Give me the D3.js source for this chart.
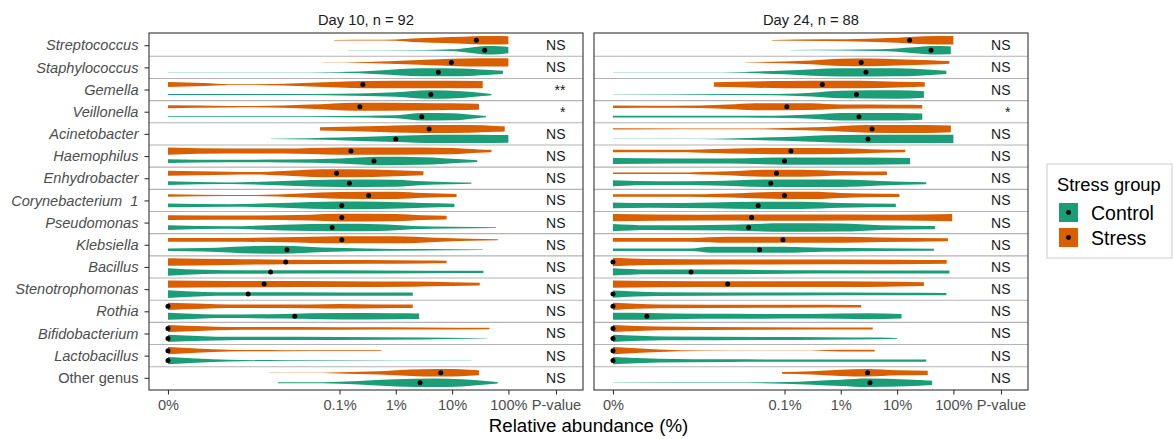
<!DOCTYPE html>
<html>
<head>
<meta charset="utf-8">
<script src="https://cdn.jsdelivr.net/npm/d3@7"></script>
<style>
  body { margin: 0; background: #fff; }
  svg { display: block; font-family: "Liberation Sans", Arial, sans-serif; }
</style>
</head>
<body>
<svg id="chart" width="1173" height="439"></svg>
<script>
// categories, top to bottom
var genera = ["Streptococcus", "Staphylococcus", "Gemella", "Veillonella", "Acinetobacter",
  "Haemophilus", "Enhydrobacter", "Corynebacterium  1", "Pseudomonas", "Klebsiella",
  "Bacillus", "Stenotrophomonas", "Rothia", "Bifidobacterium", "Lactobacillus", "Other genus"];
var groups = ["Stress", "Control"];
var facetTitles = ["Day 10, n = 92", "Day 24, n = 88"];

// x ticks (relative abundance, %); last one is the p-value column
var tickPct = [0, 0.1, 1, 10, 100, 700];
var tickLabels = ["0%", "0.1%", "1%", "10%", "100%", "P-value"];

var pvalDay10 = ["NS", "NS", "**", "*", "NS", "NS", "NS", "NS", "NS", "NS", "NS", "NS", "NS", "NS", "NS", "NS"];
var pvalDay24 = ["NS", "NS", "NS", "*", "NS", "NS", "NS", "NS", "NS", "NS", "NS", "NS", "NS", "NS", "NS", "NS"];

// medians (%)
var medianStress10  = [27, 9.7, 0.26, 0.23, 3.9, 0.16, 0.089, 0.33, 0.11, 0.11, 0.011, 0.0045, 0, 0, 0, 6.3];
var medianControl10 = [38, 5.7, 4.2, 2.9, 1.0, 0.41, 0.15, 0.11, 0.074, 0.0116, 0.0059, 0.0023, 0.016, 0, 0, 2.7];
var medianStress24  = [16.7, 2.3, 0.47, 0.11, 3.6, 0.13, 0.072, 0.1, 0.026, 0.094, 0, 0.0097, 0, 0, 0, 3.0];
var medianControl24 = [40, 2.8, 1.9, 2.1, 3.05, 0.1, 0.057, 0.034, 0.023, 0.036, 0.0021, 0, 0.00027, 0, 0, 3.3];

// violin outlines: [abundance %, relative density]
var violinStress10 = [
  [[0.08,0.04],[0.4,0.08],[1,0.15],[2,0.4],[10,0.75],[25,0.95],[50,1.0],[100,0.95]],
  [[0.05,0.04],[0.3,0.12],[2,0.5],[10,0.85],[30,1.0],[100,1.0]],
  [[0,0.6],[0.0003,0.35],[0.001,0.08],[0.003,0.08],[0.01,0.2],[0.03,0.45],[0.3,0.85],[3,0.9],[35,0.85]],
  [[0,0.35],[0.001,0.2],[0.003,0.15],[0.03,0.5],[0.2,0.95],[2,0.9],[10,0.8],[30,0.7]],
  [[0.045,0.4],[0.3,0.6],[3,0.95],[20,0.9],[60,0.7],[86,0.6]],
  [[0,0.85],[0.001,0.6],[0.01,0.6],[0.1,0.85],[1,0.85],[10,0.75],[30,0.4],[50,0.3]],
  [[0,0.6],[0.001,0.35],[0.003,0.3],[0.01,0.55],[0.05,0.95],[0.15,0.95],[1,0.7],[3.1,0.45]],
  [[0,0.3],[0.001,0.12],[0.003,0.12],[0.02,0.45],[0.1,0.8],[1,0.85],[3,0.55],[12,0.35]],
  [[0,0.55],[0.003,0.5],[0.03,0.7],[0.1,0.9],[1,0.85],[3,0.55],[8,0.45]],
  [[0,0.45],[0.001,0.45],[0.01,0.6],[0.1,0.85],[1,0.85],[5,0.5],[20,0.25],[65,0.12]],
  [[0,0.9],[0.001,0.7],[0.01,0.55],[0.3,0.45],[3,0.35],[8,0.3]],
  [[0,0.85],[0.001,0.75],[0.1,0.7],[2,0.6],[10,0.45],[31,0.35]],
  [[0,0.85],[0.0003,0.6],[0.001,0.42],[0.03,0.45],[0.1,0.55],[0.5,0.45],[2,0.4]],
  [[0,0.85],[0.0003,0.55],[0.001,0.35],[0.1,0.3],[3,0.25],[46,0.18]],
  [[0,0.85],[0.0002,0.5],[0.001,0.2],[0.01,0.12],[0.1,0.1],[0.55,0.1]],
  [[0.0055,0.02],[0.05,0.03],[0.1,0.15],[0.5,0.4],[3,0.85],[10,0.9],[20,0.7],[30,0.6]]
];
var violinControl10 = [
  [[0.14,0.03],[3,0.06],[10,0.2],[20,0.6],[40,1.0],[70,0.95],[100,0.75]],
  [[0,0.02],[0.01,0.02],[0.1,0.1],[0.5,0.45],[3,0.95],[15,0.9],[40,0.6],[80,0.4]],
  [[0,0.12],[0.01,0.1],[0.1,0.2],[1,0.55],[4,1.0],[15,0.8],[35,0.35],[50,0.15]],
  [[0,0.08],[0.01,0.08],[0.1,0.15],[1,0.35],[3,0.9],[10,0.85],[25,0.4],[40,0.15]],
  [[0.006,0.04],[0.03,0.15],[0.1,0.3],[1,0.75],[5,1.0],[30,1.0],[100,0.9]],
  [[0,0.45],[0.001,0.3],[0.01,0.35],[0.1,0.6],[0.5,1.0],[3,0.9],[15,0.4],[28,0.2]],
  [[0,0.45],[0.001,0.2],[0.01,0.55],[0.1,0.9],[1,0.85],[3,0.45],[10,0.25],[22,0.15]],
  [[0,0.45],[0.001,0.3],[0.01,0.55],[0.1,0.9],[0.5,0.85],[3,0.55],[11,0.4]],
  [[0,0.55],[0.001,0.3],[0.01,0.7],[0.1,0.9],[0.5,0.8],[2,0.4],[10,0.2],[60,0.1]],
  [[0,0.3],[0.0003,0.4],[0.003,0.9],[0.01,0.95],[0.05,0.55],[0.3,0.3],[3,0.15],[35,0.06]],
  [[0,0.9],[0.0003,0.5],[0.001,0.42],[0.1,0.4],[3,0.3],[36,0.25]],
  [[0,0.9],[0.0003,0.5],[0.001,0.42],[0.1,0.4],[2,0.4]],
  [[0,0.85],[0.0003,0.5],[0.001,0.42],[0.01,0.55],[0.1,0.75],[1,0.7],[2.6,0.65]],
  [[0,0.85],[0.0003,0.55],[0.001,0.4],[0.1,0.35],[3,0.25],[20,0.08],[42,0.03]],
  [[0,0.85],[0.0002,0.5],[0.001,0.2],[0.01,0.08],[1,0.04],[22,0.02]],
  [[0.008,0.1],[0.05,0.12],[0.1,0.25],[1,0.85],[5,1.0],[15,0.85],[40,0.4],[65,0.15]]
];
var violinStress24 = [
  [[0.06,0.04],[0.5,0.2],[3,0.35],[10,0.6],[20,0.85],[50,1.0],[100,1.0]],
  [[0.02,0.04],[0.1,0.2],[0.3,0.45],[1,0.85],[3,0.9],[10,0.75],[40,0.5],[85,0.3]],
  [[0.0055,0.55],[0.1,0.85],[1,0.9],[5,0.8],[20,0.6],[31,0.55]],
  [[0,0.3],[0.001,0.25],[0.01,0.55],[0.03,0.85],[0.3,0.8],[1,0.5],[10,0.45],[28,0.4]],
  [[0,0.15],[0.03,0.1],[0.1,0.2],[0.5,0.45],[3,0.9],[30,0.95],[90,0.8]],
  [[0,0.3],[0.001,0.3],[0.01,0.55],[0.1,0.75],[1,0.7],[5,0.4],[14,0.3]],
  [[0,0.2],[0.001,0.15],[0.01,0.45],[0.05,0.85],[0.2,0.85],[1,0.55],[6.6,0.4]],
  [[0,0.3],[0.002,0.3],[0.02,0.6],[0.1,0.85],[0.3,0.85],[1,0.6],[5,0.4],[11,0.35]],
  [[0,0.85],[0.003,0.7],[0.3,0.75],[10,0.7],[95,0.85]],
  [[0,0.45],[0.002,0.45],[0.01,0.7],[1,0.7],[5,0.55],[80,0.35]],
  [[0,1.0],[0.0003,0.7],[0.01,0.6],[10,0.55],[76,0.45]],
  [[0,0.85],[0.003,0.7],[1,0.7],[10,0.55],[30,0.45]],
  [[0,0.85],[0.0005,0.45],[0.1,0.35],[2.3,0.3]],
  [[0,0.85],[0.0005,0.45],[0.03,0.3],[3.7,0.25]],
  [[0,0.85],[0.0005,0.3],[0.003,0.06],[0.3,0.05],[1,0.2],[4,0.2]],
  [[0.09,0.2],[0.3,0.4],[1,0.75],[3,0.9],[10,0.6],[35,0.5]]
];
var violinControl24 = [
  [[0.13,0.04],[1,0.08],[5,0.2],[20,0.7],[40,1.0],[80,0.95],[90,0.9]],
  [[0,0.02],[0.008,0.03],[0.1,0.45],[1,1.0],[10,0.95],[40,0.6],[75,0.4]],
  [[0,0.03],[0.01,0.1],[0.1,0.2],[0.3,0.45],[1,0.9],[10,1.0],[30,0.75]],
  [[0,0.2],[0.01,0.2],[0.1,0.3],[0.3,0.5],[1,0.9],[10,0.9],[28,0.75]],
  [[0,0.02],[0.003,0.03],[0.01,0.12],[0.1,0.45],[1,0.9],[10,1.0],[100,1.0]],
  [[0,0.7],[0.001,0.6],[0.01,0.6],[0.1,0.85],[3,0.85],[17,0.75]],
  [[0,0.7],[0.0005,0.45],[0.005,0.55],[0.05,0.9],[1,0.9],[5,0.55],[33,0.25]],
  [[0,0.7],[0.0003,0.55],[0.005,0.7],[0.03,0.85],[0.2,0.85],[1,0.55],[9.5,0.4]],
  [[0,0.85],[0.0003,0.55],[0.01,0.7],[0.1,1.0],[1,0.95],[5,0.55],[47,0.4]],
  [[0,0.3],[0.002,0.3],[0.005,0.7],[0.1,0.7],[0.5,0.45],[45,0.25]],
  [[0,0.85],[0.0003,0.55],[0.003,0.55],[0.3,0.4],[85,0.35]],
  [[0,0.85],[0.0005,0.45],[0.1,0.35],[10,0.3],[75,0.25]],
  [[0,0.85],[0.0003,0.8],[0.003,0.6],[0.3,0.55],[3,0.7],[12,0.55]],
  [[0,0.85],[0.0007,0.45],[0.5,0.3],[5,0.2],[10,0.1]],
  [[0,0.85],[0.0005,0.45],[0.01,0.3],[33,0.25]],
  [[0,0.03],[0.01,0.05],[0.1,0.2],[1,0.75],[3,1.0],[15,0.8],[42,0.5]]
];

var colors = { Control: "#1b9e77", Stress: "#d95f02" };
var facets = [
  { title: facetTitles[0], pvals: pvalDay10,
    medians: { Stress: medianStress10, Control: medianControl10 },
    violins: { Stress: violinStress10, Control: violinControl10 } },
  { title: facetTitles[1], pvals: pvalDay24,
    medians: { Stress: medianStress24, Control: medianControl24 },
    violins: { Stress: violinStress24, Control: violinControl24 } }
];

var svg = d3.select("#chart");
var panelLeft = [149, 594], panelW = 434;
var panelTop = 33, panelBottom = 390;

// pseudo-log transform so 0% can sit on the axis
function trans(p) { return Math.log10(p + 9e-5); }

var y = d3.scalePoint().domain(genera).range([panelTop, panelBottom]).padding(0.55);
var step = y.step();
var dodge = d3.scalePoint().domain(groups).range([-0.225 * step, 0.225 * step]);
var halfW = 0.19 * step;

facets.forEach(function(f, i) {
  var x0 = panelLeft[i];
  var x = d3.scaleLinear().domain([-4.383, 3.325]).range([x0, x0 + panelW]);
  var g = svg.append("g");

  g.append("rect")
    .attr("x", x0).attr("y", panelTop)
    .attr("width", panelW).attr("height", panelBottom - panelTop)
    .attr("fill", "#fff");

  // separators between genera
  g.selectAll(".sep").data(genera.slice(1)).enter().append("line")
    .attr("x1", x0).attr("x2", x0 + panelW)
    .attr("y1", function(d) { return y(d) - step / 2; })
    .attr("y2", function(d) { return y(d) - step / 2; })
    .attr("stroke", "#b3b3b3")
    .attr("stroke-width", 1.1);

  groups.forEach(function(grp) {
    f.violins[grp].forEach(function(knots, j) {
      var cy = y(genera[j]) + dodge(grp);
      var area = d3.area()
        .curve(d3.curveMonotoneX)
        .x(function(d) { return x(trans(d[0])); })
        .y0(function(d) { return cy - d[1] * halfW; })
        .y1(function(d) { return cy + d[1] * halfW; });
      g.append("path").datum(knots).attr("d", area).attr("fill", colors[grp]);
    });
  });

  groups.forEach(function(grp) {
    g.selectAll(".med-" + grp).data(f.medians[grp]).enter().append("circle")
      .attr("cx", function(d) { return x(trans(d)); })
      .attr("cy", function(d, j) { return y(genera[j]) + dodge(grp); })
      .attr("r", 2.5)
      .attr("fill", "#000");
  });

  // p-value column
  g.selectAll(".pval").data(f.pvals).enter().append("text")
    .attr("x", x(trans(tickPct[5])) + 9.5)
    .attr("y", function(d, j) { return y(genera[j]) + 5; })
    .attr("text-anchor", "end")
    .style("font-size", "14px")
    .attr("fill", "#1a1a1a")
    .text(function(d) { return d; });

  g.append("rect")
    .attr("x", x0).attr("y", panelTop)
    .attr("width", panelW).attr("height", panelBottom - panelTop)
    .attr("fill", "none")
    .attr("stroke", "#333333")
    .attr("stroke-width", 1.1);

  // strip title
  svg.append("text")
    .attr("x", x0 + panelW / 2).attr("y", 24.5)
    .attr("text-anchor", "middle")
    .style("font-size", "14.7px")
    .attr("fill", "#1a1a1a")
    .text(f.title);

  var xAxis = svg.append("g")
    .attr("transform", "translate(0," + panelBottom + ")")
    .call(d3.axisBottom(x)
      .tickValues(tickPct.map(trans))
      .tickFormat(function(d, k) { return tickLabels[k]; })
      .tickSize(4.5)
      .tickPadding(5));
  xAxis.select(".domain").remove();
  xAxis.selectAll("line").attr("stroke", "#333333").attr("stroke-width", 1.1);
  xAxis.selectAll("text").attr("fill", "#4d4d4d")
    .style("font-size", "14.6px").style("font-family", "'Liberation Sans', Arial, sans-serif");

  if (i === 0) {
    var yAxis = svg.append("g")
      .attr("transform", "translate(" + x0 + ",0)")
      .call(d3.axisLeft(y).tickSize(4.5).tickPadding(6));
    yAxis.select(".domain").remove();
    yAxis.selectAll("line").attr("stroke", "#333333").attr("stroke-width", 1.1);
    yAxis.selectAll("text").attr("fill", "#4d4d4d")
      .style("font-size", "14.6px")
      .style("font-family", "'Liberation Sans', Arial, sans-serif")
      .style("white-space", "pre")
      .style("font-style", function(d) { return d === "Other genus" ? "normal" : "italic"; });
  }
});

svg.append("text")
  .attr("x", (panelLeft[0] + panelLeft[1] + panelW) / 2)
  .attr("y", 431.5)
  .attr("text-anchor", "middle")
  .style("font-size", "18.7px")
  .attr("fill", "#000")
  .text("Relative abundance (%)");

// legend
var legend = svg.append("g").attr("transform", "translate(1047,164)");
legend.append("rect")
  .attr("width", 125).attr("height", 94)
  .attr("fill", "#fff").attr("stroke", "#cccccc");
legend.append("text")
  .attr("x", 10).attr("y", 27)
  .style("font-size", "18.3px")
  .attr("fill", "#000")
  .text("Stress group");
var legendOrder = ["Control", "Stress"];
var item = legend.selectAll(".item").data(legendOrder).enter().append("g")
  .attr("transform", function(d, k) { return "translate(12," + (39 + k * 25) + ")"; });
item.append("rect")
  .attr("width", 19).attr("height", 19)
  .attr("fill", function(d) { return colors[d]; });
item.append("circle")
  .attr("cx", 9.5).attr("cy", 9.5).attr("r", 2.4).attr("fill", "#000");
item.append("text")
  .attr("x", 32).attr("y", 16.5)
  .style("font-size", "19.5px")
  .attr("fill", "#000")
  .text(function(d) { return d; });
</script>
</body>
</html>
